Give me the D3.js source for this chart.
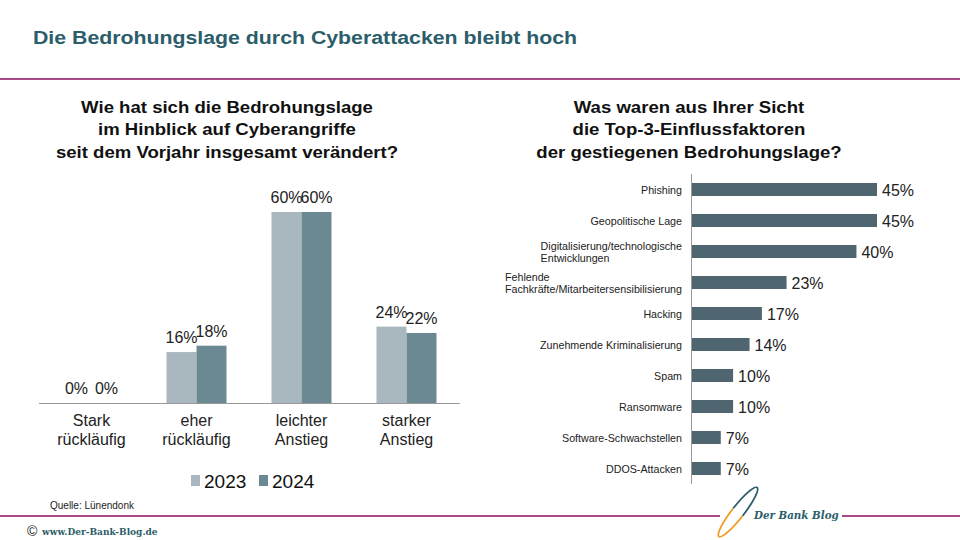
<!DOCTYPE html>
<html><head><meta charset="utf-8">
<script src="https://cdn.jsdelivr.net/npm/d3@7"></script>
<style>
body{margin:0;background:#fff;}
svg{font-family:"Liberation Sans",Arial,sans-serif;display:block;}
</style></head>
<body>
<svg id="c" width="960" height="540"></svg>
<script>
// ---- data ----
const leftCategories = [["Stark","rückläufig"],["eher","rückläufig"],["leichter","Anstieg"],["starker","Anstieg"]];
const seriesNames = ["2023","2024"];
const values2023 = [0,16,60,24];
const values2024 = [0,18,60,22];
const rightCategories = [["Phishing"],["Geopolitische Lage"],["Digitalisierung/technologische","Entwicklungen"],["Fehlende","Fachkräfte/Mitarbeitersensibilisierung"],["Hacking"],["Zunehmende Kriminalisierung"],["Spam"],["Ransomware"],["Software-Schwachstellen"],["DDOS-Attacken"]];
const rightValues = [45,45,40,23,17,14,10,10,7,7];
const mainTitle = "Die Bedrohungslage durch Cyberattacken bleibt hoch";
const leftTitle = ["Wie hat sich die Bedrohungslage","im Hinblick auf Cyberangriffe","seit dem Vorjahr insgesamt verändert?"];
const rightTitle = ["Was waren aus Ihrer Sicht","die Top-3-Einflussfaktoren","der gestiegenen Bedrohungslage?"];
const source = "Quelle: Lünendonk";

const svg = d3.select("#c");
const teal = "#2b5d6a", purple = "#8a0c62";
const colors = ["#a9b8be","#6b8993"];

// header
svg.append("text").attr("x",33).attr("y",44).attr("font-size",18).attr("font-weight","bold")
  .attr("fill",teal).attr("textLength",544).attr("lengthAdjust","spacingAndGlyphs").text(mainTitle);
svg.append("line").attr("x1",0).attr("x2",960).attr("y1",79).attr("y2",79).attr("stroke",purple).attr("stroke-width",1.5);

// chart titles
function titleBlock(lines,cx){
  svg.append("g").attr("transform",`translate(${cx},0) scale(1.08,1)`)
    .selectAll("text").data(lines).join("text")
    .attr("x",0).attr("y",(d,i)=>113+i*22.5).attr("text-anchor","middle")
    .attr("font-size",17.2).attr("font-weight","bold").attr("fill","#111").text(d=>d);
}
titleBlock(leftTitle,227);
titleBlock(rightTitle,689);

// ---- left grouped bar chart ----
const x0 = d3.scaleBand().domain(d3.range(leftCategories.length)).range([39,459]).paddingInner(0).paddingOuter(0);
const x1 = d3.scaleBand().domain(seriesNames).range([x0.bandwidth()/2-30, x0.bandwidth()/2+30]);
const yL = d3.scaleLinear().domain([0,60]).range([403,212]);
const gL = svg.append("g");
seriesNames.forEach((s,si)=>{
  const vals = si===0?values2023:values2024;
  gL.append("g").selectAll("rect").data(vals).join("rect")
    .attr("x",(d,i)=>x0(i)+x1(s)).attr("width",x1.bandwidth())
    .attr("y",d=>yL(d)).attr("height",d=>yL(0)-yL(d)).attr("fill",colors[si]);
  gL.append("g").selectAll("text").data(vals).join("text")
    .attr("x",(d,i)=>x0(i)+x1(s)+x1.bandwidth()/2).attr("y",d=>yL(d)-9)
    .attr("text-anchor","middle").attr("font-size",16).attr("fill","#222").text(d=>d+"%");
});
gL.append("line").attr("x1",39).attr("x2",460).attr("y1",403.5).attr("y2",403.5).attr("stroke","#999").attr("stroke-width",1);
leftCategories.forEach((lines,i)=>{
  gL.append("g").selectAll("text").data(lines).join("text")
    .attr("x",x0(i)+x0.bandwidth()/2).attr("y",(d,j)=>426+j*18.5).attr("text-anchor","middle")
    .attr("font-size",16).attr("fill","#222").text(d=>d);
});
// legend
const leg = svg.append("g");
[[191,"2023"],[259,"2024"]].forEach(([lx,n],i)=>{
  leg.append("rect").attr("x",lx).attr("y",475).attr("width",9).attr("height",11).attr("fill",colors[i]);
  leg.append("text").attr("x",lx+13).attr("y",488).attr("font-size",19).attr("fill","#111").text(n);
});

// ---- right horizontal bar chart ----
const yR = d3.scaleBand().domain(d3.range(rightCategories.length)).range([174,484]).paddingInner(0.58).paddingOuter(0.29);
const xR = d3.scaleLinear().domain([0,45]).range([692,877]);
const gR = svg.append("g");
gR.selectAll("rect").data(rightValues).join("rect")
  .attr("x",xR(0)).attr("y",(d,i)=>yR(i)).attr("width",d=>xR(d)-xR(0)).attr("height",yR.bandwidth())
  .attr("fill","#4f6670");
gR.selectAll("text.v").data(rightValues).join("text").attr("class","v")
  .attr("x",d=>xR(d)+5).attr("y",(d,i)=>yR(i)+yR.bandwidth()/2+6).attr("font-size",16).attr("fill","#222")
  .text(d=>d+"%");
gR.append("line").attr("x1",691.5).attr("x2",691.5).attr("y1",174).attr("y2",484).attr("stroke","#999");
rightCategories.forEach((lines,i)=>{
  const cy = yR(i)+yR.bandwidth()/2;
  const g = gR.append("g");
  const t = g.selectAll("text").data(lines).join("text")
    .attr("y",(d,j)=>cy+4-(lines.length-1)*6+j*12)
    .attr("font-size",10.7).attr("fill","#222").text(d=>d);
  let w = 0; t.each(function(){w=Math.max(w,this.getComputedTextLength());});
  t.attr("x",682-w);
});

// ---- footer ----
svg.append("text").attr("x",50).attr("y",509).attr("font-size",10).attr("fill","#222").text(source);
svg.append("line").attr("x1",0).attr("x2",720).attr("y1",516).attr("y2",516).attr("stroke",purple).attr("stroke-width",1.5);
svg.append("line").attr("x1",842).attr("x2",960).attr("y1",516).attr("y2",516).attr("stroke",purple).attr("stroke-width",1.5);
svg.append("text").attr("x",27).attr("y",536).attr("font-size",14).attr("fill","#222").text("©");
svg.append("text").attr("x",42).attr("y",535).attr("font-family","'DejaVu Serif',serif").attr("font-weight","bold")
  .attr("font-size",9).attr("fill",teal).text("www.Der-Bank-Blog.de");
// logo
const logo = svg.append("g").attr("transform","translate(738,512) rotate(-52)");
logo.append("path").attr("d","M0,-6 A31,6 0 0,0 -31,0 A31,6 0 0,0 0,6").attr("fill","none").attr("stroke","#f39a1e").attr("stroke-width",1.8);
logo.append("path").attr("d","M0,-6 A31,6 0 0,1 31,0 A31,6 0 0,1 0,6").attr("fill","none").attr("stroke",teal).attr("stroke-width",1.8);
svg.append("rect").attr("x",752).attr("y",509).attr("width",88).attr("height",13).attr("fill","#fff");
svg.append("text").attr("x",754).attr("y",519).attr("font-family","'DejaVu Serif',serif").attr("font-style","italic")
  .attr("font-weight","bold").attr("font-size",10.3).attr("fill",teal).text("Der Bank Blog");
</script>
</body></html>
